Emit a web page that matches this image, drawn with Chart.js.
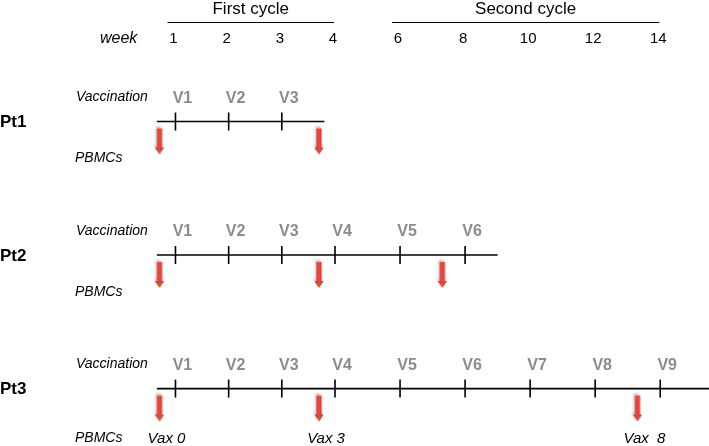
<!DOCTYPE html>
<html>
<head>
<meta charset="utf-8">
<script src="https://cdn.jsdelivr.net/npm/chart.js@4.4.1/dist/chart.umd.min.js"></script>
<style>
html,body{margin:0;padding:0;background:#fff}
</style>
</head>
<body>
<canvas id="myChart" width="709" height="446"></canvas>
<script>
// dati dello schema
var pazienti = ['Pt1', 'Pt2', 'Pt3']
var settimane = [1, 2, 3, 4, 6, 8, 10, 12, 14]
var cicliNomi = ['First cycle', 'Second cycle']
var cicliInizio = [1, 6]
var cicliFine = [4, 14]
var dosi = [3, 6, 9]                 // vaccinazioni ricevute da ogni paziente
var inizioFollow = 0.65
var fineFollow = [3.8, 9, 15.5]
var prelieviPBMC = [[0.7, 3.7], [0.7, 3.7, 7.3], [0.7, 3.7, 13.3]]
var etichettePBMC = [[], [], ['Vax 0', 'Vax 3', 'Vax  8']]

var FONT = '"Liberation Sans", Arial, sans-serif'

// scala delle settimane: il primo ciclo e' disegnato piu' largo del secondo
class ScalaSchema extends Chart.LinearScale {
    _dec(v) {
        var s = this.options.split, f = this.options.splitFrac
        if (v <= s) return (v - this.min) / (s - this.min) * f
        return f + (v - s) / (this.max - s) * (1 - f)
    }
    getPixelForValue(v) {
        if (v === null || v === undefined) return NaN
        return this.getPixelForDecimal(this._dec(v))
    }
    getValueForPixel(p) {
        var d = this.getDecimalForPixel(p)
        var s = this.options.split, f = this.options.splitFrac
        if (d <= f) return this.min + d / f * (s - this.min)
        return s + (d - f) / (1 - f) * (this.max - s)
    }
}
ScalaSchema.id = 'schema'
ScalaSchema.defaults = Chart.LinearScale.defaults
Chart.register(ScalaSchema)

function creaFreccia() {
    var c = document.createElement('canvas')
    c.width = 16
    c.height = 68
    var g = c.getContext('2d')
    var cx = 8, top = 41, mid = 60, tip = 67
    g.shadowColor = 'rgba(0,0,0,0.3)'
    g.shadowBlur = 3
    g.shadowOffsetY = -2
    g.shadowOffsetX = -1
    var grad = g.createLinearGradient(cx - 5, 0, cx + 5, 0)
    grad.addColorStop(0, '#c01e1e')
    grad.addColorStop(0.5, '#f24a40')
    grad.addColorStop(1, '#c82222')
    g.fillStyle = grad
    g.beginPath()
    g.moveTo(cx - 2.5, top)
    g.lineTo(cx + 2.5, top)
    g.lineTo(cx + 2.5, mid)
    g.lineTo(cx + 4.5, mid)
    g.lineTo(cx, tip)
    g.lineTo(cx - 4.5, mid)
    g.lineTo(cx - 2.5, mid)
    g.closePath()
    g.fill()
    return c
}
var freccia = creaFreccia()

var datasets = []
var indiciVacc = []
var indiciPBMC = []
for (var i = 0; i < pazienti.length; i++) {
    var riga = i + 1
    datasets.push({
        label: pazienti[i] + ' follow-up',
        data: [{x: inizioFollow, y: riga}, {x: fineFollow[i], y: riga}],
        showLine: true,
        borderColor: '#000',
        borderWidth: 1.6,
        pointRadius: 0
    })
    var vacc = []
    for (var j = 0; j < dosi[i]; j++) vacc.push({x: settimane[j], y: riga})
    indiciVacc.push(datasets.length)
    datasets.push({
        label: pazienti[i] + ' vaccination',
        data: vacc,
        pointStyle: 'line',
        rotation: 90,
        pointRadius: 9,
        borderColor: '#000',
        borderWidth: 1.6
    })
    var pb = []
    for (var k = 0; k < prelieviPBMC[i].length; k++) pb.push({x: prelieviPBMC[i][k], y: riga})
    indiciPBMC.push(datasets.length)
    datasets.push({
        label: pazienti[i] + ' PBMCs',
        data: pb,
        pointStyle: freccia,
        pointRadius: 5
    })
}

var testiPlugin = {
    id: 'testi',
    afterDatasetsDraw: function (chart) {
        var ctx = chart.ctx
        var sx = chart.scales.x
        var sy = chart.scales.y
        ctx.save()
        ctx.textBaseline = 'middle'
        ctx.fillStyle = '#000'
        ctx.strokeStyle = '#000'
        ctx.lineWidth = 1.2

        // intestazioni dei cicli
        ctx.font = '17px ' + FONT
        ctx.textAlign = 'center'
        for (var c = 0; c < cicliNomi.length; c++) {
            var x0 = sx.getPixelForValue(cicliInizio[c]) - 8
            var x1 = sx.getPixelForValue(cicliFine[c]) - 1
            ctx.beginPath()
            ctx.moveTo(x0, 22.5)
            ctx.lineTo(x1, 22.5)
            ctx.stroke()
            ctx.fillText(cicliNomi[c], (x0 + x1) / 2, 9)
        }
        // settimane
        ctx.font = '15px ' + FONT
        for (var w = 0; w < settimane.length; w++) {
            ctx.fillText(String(settimane[w]), sx.getPixelForValue(settimane[w]) - 2, 39)
        }
        ctx.font = 'italic 16px ' + FONT
        ctx.textAlign = 'left'
        ctx.fillText('week', 100, 39)

        for (var i = 0; i < pazienti.length; i++) {
            var y = sy.getPixelForValue(i + 1)
            ctx.fillStyle = '#000'
            ctx.textAlign = 'left'
            ctx.font = 'bold 17px ' + FONT
            ctx.fillText(pazienti[i], 0, y + 1)
            ctx.font = 'italic 14px ' + FONT
            ctx.fillText('Vaccination', 76, y - 24)
            var conEtichette = etichettePBMC[i].length > 0
            ctx.fillText('PBMCs', 75, y + (conEtichette ? 50 : 37))

            // V1, V2, ...
            var metaV = chart.getDatasetMeta(indiciVacc[i])
            ctx.font = 'bold 16px ' + FONT
            ctx.fillStyle = '#8c8c8c'
            ctx.textAlign = 'center'
            metaV.data.forEach(function (p, n) {
                ctx.fillText('V' + (n + 1), p.x + 7, p.y - 23)
            })

            // Vax 0, Vax 3, ...
            var metaP = chart.getDatasetMeta(indiciPBMC[i])
            ctx.font = 'italic 15px ' + FONT
            ctx.fillStyle = '#000'
            metaP.data.forEach(function (p, n) {
                if (etichettePBMC[i][n]) ctx.fillText(etichettePBMC[i][n], p.x + 7, p.y + 50)
            })
        }
        ctx.restore()
    }
}

var ctx = document.getElementById('myChart').getContext('2d')
var myChart = new Chart(ctx, {
    type: 'scatter',
    data: {datasets: datasets},
    options: {
        responsive: false,
        animation: false,
        devicePixelRatio: 1,
        layout: {padding: 0, autoPadding: false},
        scales: {
            x: {type: 'schema', min: -2.3, max: 15.5, split: 4, splitFrac: 0.4725, display: false},
            y: {type: 'linear', min: 0.09, max: 3.43, reverse: true, display: false}
        },
        plugins: {
            legend: {display: false},
            tooltip: {enabled: false}
        }
    },
    plugins: [testiPlugin]
})
</script>
</body>
</html>
